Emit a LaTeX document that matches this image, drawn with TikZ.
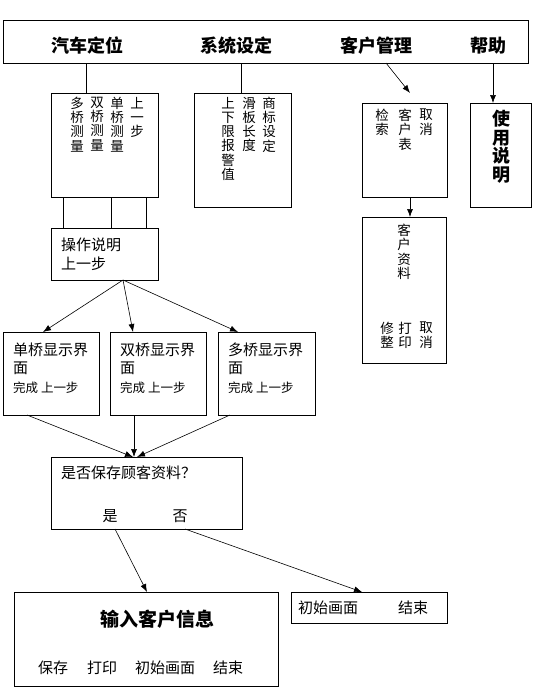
\documentclass[tikz,border=0pt]{standalone}
\usepackage{fontspec}
\newfontfamily\cjk{Noto Sans CJK SC}
\usetikzlibrary{arrows.meta, positioning}

\begin{document}
\begin{tikzpicture}[x=1pt, y=-1pt,
    box/.style={draw, line width=0.8pt, anchor=north west, inner sep=0pt},
    link/.style={line width=0.6pt, -{Latex[length=8pt,width=6pt]}},
    plain/.style={line width=0.6pt},
    menu/.style={font=\cjk\bfseries\fontsize{18}{18}\selectfont, inner sep=0pt},
    vcol/.style={font=\cjk\fontsize{13.5}{14.2}\selectfont, align=center, anchor=north, inner sep=0pt},
    bigcol/.style={font=\cjk\bfseries\fontsize{18}{18.5}\selectfont, align=center, anchor=north, inner sep=0pt},
    txt/.style={font=\cjk\fontsize{15}{15}\selectfont, anchor=west, inner sep=0pt},
    small/.style={font=\cjk\fontsize{12.5}{12.5}\selectfont, anchor=west, inner sep=0pt}]
    \useasboundingbox (0,0) rectangle (534,697);

    % Menu bar
    \node (bar) [box, minimum width=525, minimum height=43] at (3,20) {};
    \node (mQiche) [menu] at (88,46) {汽车定位};
    \node (mXitong) [menu] at (236,46) {系统设定};
    \node (mKehu) [menu] at (376,46) {客户管理};
    \node (mBangzhu) [menu] at (488,46) {帮助};

    % Boxes under the menu
    \node (qiche) [box, minimum width=107, minimum height=104] at (51,93) {};
    \node (xitong) [box, minimum width=97, minimum height=114] at (194,93) {};
    \node (jiansuo) [box, minimum width=85, minimum height=94] at (362,103) {};
    \node (shiyong) [box, minimum width=61, minimum height=104] at (470,103) {};
    \node (ziliao) [box, minimum width=84, minimum height=146] at (362,217) {};

    % Vertical columns, read right to left
    \node (cDuo) [vcol] at (77,97) {多\\桥\\测\\量};
    \node (cShuang) [vcol] at (97,97) {双\\桥\\测\\量};
    \node (cDan) [vcol] at (117,97) {单\\桥\\测\\量};
    \node (cBack) [vcol] at (137,97) {上\\一\\步};

    \node (cXiaxian) [vcol] at (228,97) {上\\下\\限\\报\\警\\值};
    \node (cHuaban) [vcol] at (249,97) {滑\\板\\长\\度};
    \node (cShangbiao) [vcol] at (269,97) {商\\标\\设\\定};

    \node (cJiansuo) [vcol] at (382,109) {检\\索};
    \node (cKehubiao) [vcol] at (405,109) {客\\户\\表};
    \node (cQuxiao) [vcol] at (426,109) {取\\消};

    \node (cShiyong) [bigcol] at (501,110) {使\\用\\说\\明};

    \node (cZiliao) [vcol] at (404,224) {客\\户\\资\\料};
    \node (cXiuzheng) [vcol] at (387,322) {修\\整};
    \node (cDayin) [vcol] at (405,322) {打\\印};
    \node (cQuxiao2) [vcol] at (426,322) {取\\消};

    % Operation box and display boxes
    \node (caozuo) [box, minimum width=107, minimum height=52] at (51,228) {};
    \node (tCaozuo) [txt] at (61,245) {操作说明};
    \node (tCaozuoBack) [txt] at (61,264) {上一步};

    \node (dan) [box, minimum width=96, minimum height=83] at (3,332) {};
    \node (shuang) [box, minimum width=96, minimum height=83] at (110,332) {};
    \node (duo) [box, minimum width=97, minimum height=83] at (218,332) {};

    \node (tDan) [txt] at (13,350) {单桥显示界};
    \node (tDanMian) [txt] at (13,368) {面};
    \node (tDanKey) [small] at (13,388) {完成 上一步};
    \node (tShuang) [txt] at (120,350) {双桥显示界};
    \node (tShuangMian) [txt] at (120,368) {面};
    \node (tShuangKey) [small] at (120,388) {完成 上一步};
    \node (tDuo) [txt] at (228,350) {多桥显示界};
    \node (tDuoMian) [txt] at (228,368) {面};
    \node (tDuoKey) [small] at (228,388) {完成 上一步};

    % Save question
    \node (baocun) [box, minimum width=191, minimum height=72] at (51,457) {};
    \node (tBaocun) [txt] at (61,473) {是否保存顾客资料？};
    \node (tShi) [txt, anchor=center] at (110,516) {是};
    \node (tFou) [txt, anchor=center] at (180,516) {否};

    % Final boxes
    \node (shuru) [box, minimum width=264, minimum height=94] at (14,592) {};
    \node (tShuru) [font=\cjk\bfseries\fontsize{19}{19}\selectfont, inner sep=0pt] at (157,619) {输入客户信息};
    \node (tSave) [txt, anchor=center] at (53,668) {保存};
    \node (tPrint) [txt, anchor=center] at (102,668) {打印};
    \node (tStart) [txt, anchor=center] at (165,668) {初始画面};
    \node (tEnd) [txt, anchor=center] at (228,668) {结束};

    \node (chushi) [box, minimum width=156, minimum height=31] at (291,592) {};
    \node (tChushi) [txt, anchor=center] at (328,608) {初始画面};
    \node (tJieshu) [txt, anchor=center] at (413,608) {结束};

    % Connectors from the menu bar
    \coordinate (m1) at (86,63);
    \coordinate (m2) at (241,63);
    \coordinate (m3) at (386,63);
    \coordinate (m3end) at (410,93);
    \coordinate (m4) at (493,63);
    \draw[plain] (m1) -- (m1 |- qiche.north);
    \draw[plain] (m2) -- (m2 |- xitong.north);
    \draw[link] (m3) -- (m3end);
    \draw[link] (m4) -- (m4 |- shiyong.north);
    \draw[link] (jiansuo.south -| m3end) -- (ziliao.north -| m3end);

    % Three lines from the measuring box
    \foreach \x in {63,111,146}
        \draw[plain] (\x,197) -- (\x,228);

    % Operation box to the display boxes
    \coordinate (cz) at (123,280);
    \draw[link] (cz) -- (43,332);
    \draw[link] (cz) -- (133,332);
    \draw[link] (cz) -- (238,332);

    % Display boxes to the question
    \draw[link] (27,415) -- (133,457);
    \draw[link] (134,415) -- (134,457);
    \draw[link] (230,415) -- (137,457);

    % Answers
    \draw[link] (115,529) -- (147,592);
    \draw[link] (185,529) -- (362,592);

\end{tikzpicture}
\end{document}
